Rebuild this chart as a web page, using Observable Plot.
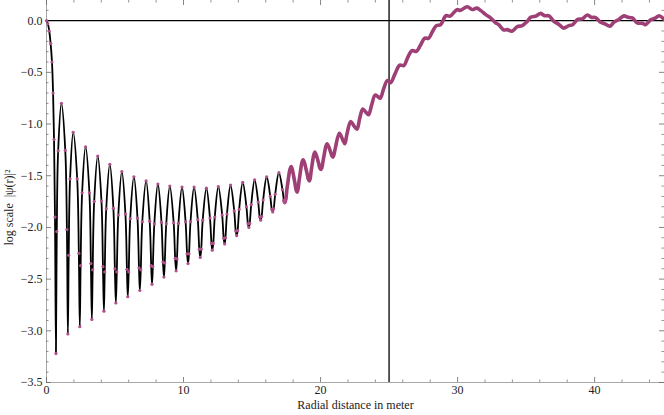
<!DOCTYPE html>
<html><head><meta charset="utf-8">
<script src="https://cdn.jsdelivr.net/npm/d3@7"></script>
<script src="https://cdn.jsdelivr.net/npm/@observablehq/plot@0.6"></script>
<style>html,body{margin:0;padding:0;background:#fff}#chart svg{display:block}</style>
</head><body><div id="chart"></div>
<script>
// radial distance (m)
const radius = [
0,0.1,0.2,0.3,0.4,0.48,0.55,0.62,0.69,0.75,0.85,1.09,1.37,1.49,1.56,1.62,1.72,1.95,2.24,2.36,
2.43,2.49,2.60,2.85,3.13,3.24,3.31,3.37,3.48,3.74,4.01,4.12,4.19,4.25,4.36,4.62,4.88,4.99,5.06,5.13,
5.24,5.50,5.76,5.87,5.93,6.00,6.11,6.38,6.64,6.75,6.81,6.88,6.99,7.27,7.53,7.64,7.70,7.76,7.87,8.13,
8.39,8.50,8.57,8.63,8.74,9.00,9.28,9.39,9.46,9.52,9.63,9.89,10.15,10.26,10.33,10.40,10.51,10.77,11.04,11.15,
11.22,11.29,11.40,11.67,11.93,12.04,12.10,12.17,12.28,12.54,12.82,12.93,13.00,13.06,13.17,13.43,13.70,13.81,13.88,13.95,
14.06,14.32,14.59,14.70,14.77,14.83,14.94,15.19,15.45,15.56,15.63,15.70,15.81,16.07,16.33,16.44,16.51,16.58,16.69,16.96,
17.22,17.33,17.39,17.46,17.57,17.85,18.11,18.22,18.29,18.35,18.46,18.72,19.00,19.11,19.18,19.24,19.34,19.59,19.85,19.96,
20.03,20.10,20.21,20.48,20.73,20.84,20.90,20.97,21.09,21.37,21.61,21.77,21.92,22.20,22.45,22.66,22.85,23.08,23.30,23.50,
23.72,23.98,24.18,24.36,24.60,24.86,25.00,25.12,25.45,25.78,26.08,26.35,26.67,27.00,27.30,27.60,27.88,28.15,28.45,28.76,
29.15,29.45,29.95,30.20,30.70,31.07,31.40,31.70,32.08,32.36,32.73,33.00,33.38,33.62,33.97,34.36,34.72,35.09,35.33,35.75,
36.03,36.35,36.67,37.03,37.40,37.73,38.12,38.40,38.74,39.10,39.47,39.76,40.07,40.44,40.73,41.12,41.40,41.77,42.14,42.43,
42.75,43.11,43.48,43.72,44.09,44.45,44.70,45.10
];
// log10 |psi(r)|^2
const logPsi = [
0,-0.03,-0.1,-0.22,-0.4,-0.7,-1.15,-1.9,-3.22,-2.04,-1.26,-0.80,-1.255,-2.02,-3.03,-2.27,-1.53,-1.08,-1.53,-2.25,
-2.96,-2.37,-1.665,-1.22,-1.665,-2.35,-2.89,-2.41,-1.75,-1.31,-1.745,-2.38,-2.81,-2.43,-1.82,-1.39,-1.815,-2.40,-2.73,-2.43,
-1.88,-1.46,-1.87,-2.405,-2.67,-2.43,-1.915,-1.51,-1.91,-2.39,-2.61,-2.41,-1.945,-1.55,-1.94,-2.37,-2.55,-2.38,-1.965,-1.58,
-1.95,-2.335,-2.48,-2.345,-1.965,-1.60,-1.955,-2.30,-2.42,-2.305,-1.96,-1.61,-1.945,-2.255,-2.35,-2.255,-1.945,-1.61,-1.925,-2.21,
-2.29,-2.21,-1.93,-1.62,-1.91,-2.155,-2.22,-2.155,-1.90,-1.605,-1.88,-2.105,-2.16,-2.10,-1.87,-1.59,-1.84,-2.035,-2.08,-2.03,
-1.825,-1.565,-1.80,-1.965,-2.00,-1.96,-1.78,-1.54,-1.755,-1.90,-1.93,-1.895,-1.735,-1.51,-1.70,-1.825,-1.85,-1.82,-1.68,-1.47,
-1.635,-1.74,-1.76,-1.73,-1.605,-1.41,-1.557,-1.64,-1.66,-1.635,-1.525,-1.345,-1.47,-1.535,-1.55,-1.53,-1.43,-1.27,-1.375,-1.43,
-1.44,-1.42,-1.337,-1.19,-1.27,-1.31,-1.32,-1.30,-1.225,-1.09,-1.15,-1.19,-1.10,-0.975,-1.02,-1.05,-0.95,-0.855,-0.885,-0.91,
-0.82,-0.72,-0.735,-0.75,-0.66,-0.58,-0.59,-0.60,-0.51,-0.43,-0.435,-0.36,-0.29,-0.297,-0.235,-0.168,-0.172,-0.11,-0.048,-0.039,
0.048,0.044,0.106,0.100,0.135,0.108,0.121,0.097,0.056,0.032,-0.016,-0.039,-0.090,-0.087,-0.102,-0.058,-0.048,-0.007,0.032,0.046,
0.070,0.048,0.046,-0.007,-0.037,-0.072,-0.048,-0.039,0.010,0.018,0.055,0.032,0.030,-0.016,-0.030,-0.053,-0.016,0.012,0.046,0.032,
0.026,-0.022,-0.026,-0.039,0.008,0.026,0.048,0.010
];
const xTicks = [0, 10, 20, 30, 40];
const xMinor = [2,4,6,8,12,14,16,18,22,24,26,28,32,34,36,38,42,44];
const yTicks = [0, -0.5, -1, -1.5, -2, -2.5, -3, -3.5];
const yMinor = [0.1,-0.1,-0.2,-0.3,-0.4,-0.6,-0.7,-0.8,-0.9,-1.1,-1.2,-1.3,-1.4,-1.6,-1.7,-1.8,-1.9,-2.1,-2.2,-2.3,-2.4,-2.6,-2.7,-2.8,-2.9,-3.1,-3.2,-3.3,-3.4];
const xDomain = [0, 45.1];
const yDomain = [-3.5, 0.195];
const refX = [25];
const refY = [0];
const xTitle = "Radial distance in meter";
const yTitle = "log scale  |ψ(r)|²";

const data = radius.map((r, i) => ({r, v: logPsi[i]}));
const W = 664, H = 415, mL = 46, mR = 0, mT = 0, mB = 33;
const fH = H - mT - mB, fW = W - mL - mR;
const purple = "#9e3f76";
const dotColor = "#b0508a";
const frameGray = "#a8a8a8";
const tickGray = "#666";

const chart = Plot.plot({
  width: W, height: H,
  marginLeft: mL, marginRight: mR, marginTop: mT, marginBottom: mB,
  x: {domain: xDomain},
  y: {domain: yDomain},
  style: {fontFamily: "'Liberation Serif','Times New Roman',serif", fontSize: "12px", background: "#fff", color: "#222"},
  marks: [
    Plot.ruleX(xDomain.slice(0,1), {stroke: frameGray, strokeWidth: 1}),
    Plot.ruleY(yDomain.slice(0,1), {stroke: frameGray, strokeWidth: 1}),
    Plot.ruleX(xTicks, {insetTop: fH - 5, stroke: tickGray, strokeWidth: 0.8}),
    Plot.ruleX(xTicks, {insetBottom: fH - 5, stroke: tickGray, strokeWidth: 0.8}),
    Plot.ruleX(xMinor, {insetTop: fH - 2.5, stroke: tickGray, strokeWidth: 0.7}),
    Plot.ruleX(xMinor, {insetBottom: fH - 2.5, stroke: tickGray, strokeWidth: 0.7}),
    Plot.ruleY(yTicks, {insetRight: fW - 5, stroke: tickGray, strokeWidth: 0.8}),
    Plot.ruleY(yTicks, {insetLeft: fW - 5, stroke: tickGray, strokeWidth: 0.8}),
    Plot.ruleY(yMinor, {insetRight: fW - 2.5, stroke: tickGray, strokeWidth: 0.7}),
    Plot.ruleY(yMinor, {insetLeft: fW - 2.5, stroke: tickGray, strokeWidth: 0.7}),
    Plot.axisX(xTicks, {tickSize: 0, tickPadding: 3, tickFormat: d => String(d), label: null, fontSize: 12}),
    Plot.axisY(yTicks, {tickSize: 0, tickPadding: 4, tickFormat: d => d3.format(".1f")(d), label: null, fontSize: 12}),
    Plot.text([xTitle], {frameAnchor: "bottom", dy: 26, textAnchor: "middle", fontSize: 12}),
    Plot.text([yTitle], {frameAnchor: "left", rotate: -90, dx: -37, dy: 16, textAnchor: "middle", fontSize: 12}),
    Plot.ruleY(refY, {stroke: "#000", strokeWidth: 1.3}),
    Plot.ruleX(refX, {stroke: "#000", strokeWidth: 1.3}),
    Plot.line(data, {x: "r", y: "v", stroke: "#000", strokeWidth: 1.8, curve: "catmull-rom"}),
    Plot.line(data.filter(d => d.r >= 17.3), {x: "r", y: "v", stroke: purple, strokeWidth: 3.6, curve: "catmull-rom"}),
    Plot.dot(data.filter(d => d.r < 17.5), {x: "r", y: "v", r: 1.6, fill: dotColor, stroke: "none"})
  ]
});
document.getElementById("chart").appendChild(chart);
</script>
</body></html>
